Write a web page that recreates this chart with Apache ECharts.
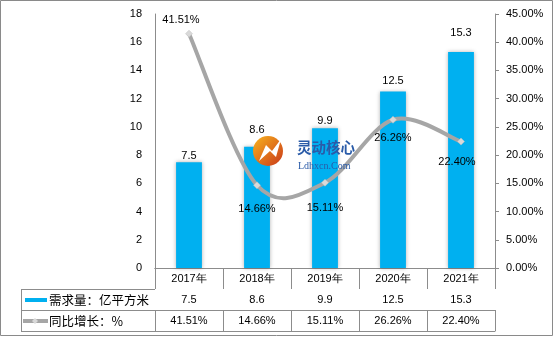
<!DOCTYPE html>
<html><head><meta charset="utf-8">
<script src="https://cdn.jsdelivr.net/npm/echarts@6/dist/echarts.min.js"></script>
<style>html,body{margin:0;padding:0;background:#fff}#c{width:554px;height:338px}</style>
</head><body><div id="c"></div>
<script>
const years = ['2017年', '2018年', '2019年', '2020年', '2021年'];
const demand = [7.5, 8.6, 9.9, 12.5, 15.3];
const growth = [41.51, 14.66, 15.11, 26.26, 22.40];
const leftAxisRange = [0, 18, 2];
const rightAxisRange = [0, 45, 5];
const demandName = '需求量：亿平方米';
const growthName = '同比增长：%';

const W = 554, H = 338;
const G = { left: 155, right: 59, top: 14, bottom: 70 };
const RH = 21;
const baseY = H - G.bottom;
const tableLeft = 21;
const gray = '#8c8c8c';
const lineGray = '#A6A6A6';
const font = 'Liberation Sans, Arial, sans-serif';
const cjk = 'Noto Sans CJK SC, sans-serif';

const pct = v => v.toFixed(2) + '%';

function tableAxis(idx, labels, showTick, showLabel) {
  return {
    type: 'category', data: years, position: 'bottom', offset: idx * RH, gridIndex: 0,
    axisLine: { show: true, lineStyle: { color: gray, width: 1 } },
    axisTick: { show: showTick, length: RH, lineStyle: { color: gray } },
    axisLabel: {
      show: showLabel, margin: 5, color: '#000', fontSize: 11, fontFamily: font,
      formatter: (v, i) => labels ? labels[i] : v
    },
    splitLine: { show: false }
  };
}

const chart = echarts.init(document.getElementById('c'), null, { renderer: 'canvas' });

const legendGraphics = [
  { type: 'line', shape: { x1: tableLeft, y1: baseY + RH + 0.5, x2: G.left, y2: baseY + RH + 0.5 }, style: { stroke: gray, lineWidth: 1 } },
  { type: 'line', shape: { x1: tableLeft, y1: baseY + 2 * RH + 0.5, x2: G.left, y2: baseY + 2 * RH + 0.5 }, style: { stroke: gray, lineWidth: 1 } },
  { type: 'line', shape: { x1: tableLeft, y1: baseY + 3 * RH + 0.5, x2: G.left, y2: baseY + 3 * RH + 0.5 }, style: { stroke: gray, lineWidth: 1 } },
  { type: 'line', shape: { x1: tableLeft + 0.5, y1: baseY + RH, x2: tableLeft + 0.5, y2: baseY + 3 * RH + 1 }, style: { stroke: gray, lineWidth: 1 } },
  { type: 'rect', shape: { x: tableLeft + 4, y: baseY + RH + 9, width: 22, height: 4 }, style: { fill: '#00B0F0' } },
  { type: 'text', x: tableLeft + 28, y: baseY + RH + 11, style: { text: demandName, fill: '#000', font: '12.5px ' + cjk, verticalAlign: 'middle' } },
  { type: 'line', shape: { x1: tableLeft + 2, y1: baseY + 2 * RH + 11, x2: tableLeft + 27, y2: baseY + 2 * RH + 11 }, style: { stroke: lineGray, lineWidth: 4 } },
  { type: 'polygon', shape: { points: [[tableLeft + 14, baseY + 2 * RH + 8], [tableLeft + 17, baseY + 2 * RH + 11], [tableLeft + 14, baseY + 2 * RH + 14], [tableLeft + 11, baseY + 2 * RH + 11]] }, style: { fill: '#D9D9D9' } },
  { type: 'text', x: tableLeft + 28, y: baseY + 2 * RH + 11, style: { text: growthName, fill: '#000', font: '12.5px ' + cjk, verticalAlign: 'middle' } },
  { type: 'rect', shape: { x: 0.5, y: 0.5, width: W - 2, height: H - 3 }, style: { fill: 'none', stroke: '#8a8a8a', lineWidth: 1 }, z: 100 },
  // watermark logo
  { type: 'circle', shape: { cx: 268, cy: 151, r: 15 }, style: { fill: new echarts.graphic.LinearGradient(0, 0, 1, 1, [{ offset: 0, color: '#F9B41D' }, { offset: 1, color: '#C9381A' }]) }, z: 50 },
  { type: 'polygon', shape: { points: [[259, 161], [266, 145], [272, 151], [281, 139], [276, 157], [270, 151]] }, style: { fill: '#fff' }, z: 51 },
  { type: 'text', x: 297, y: 140, style: { text: '灵动核心', fill: '#2A5BA8', font: 'bold 14.5px ' + cjk }, z: 50 },
  { type: 'text', x: 298, y: 161, style: { text: 'Ldhxcn.Com', fill: '#2A5BA8', font: '10px Liberation Serif, serif' }, z: 50 }
];

const barLabelDist = [1, 11, 2, 5, 14];
const growthLabelPos = ['top', 'bottom', 'bottom', 'bottom', 'bottom'];
const growthLabelDist = [4, 14, 16, 9, 11];
const growthLabelOff = [[-8, 0], [0, 0], [0, 0], [0, 0], [-4, 0]];

// Excel-style smoothed curve (Catmull-Rom through the data points, via axis coords)
function renderCurve(params, api) {
  const i = params.dataIndex;
  if (i >= growth.length - 1) return null;
  const clampIdx = k => Math.max(0, Math.min(growth.length - 1, k));
  const P = k => api.coord([clampIdx(k), growth[clampIdx(k)]]);
  const p0 = P(i - 1), p1 = P(i), p2 = P(i + 1), p3 = P(i + 2);
  return {
    type: 'bezierCurve',
    shape: {
      x1: p1[0], y1: p1[1], x2: p2[0], y2: p2[1],
      cpx1: p1[0] + (p2[0] - p0[0]) / 6, cpy1: p1[1] + (p2[1] - p0[1]) / 6,
      cpx2: p2[0] - (p3[0] - p1[0]) / 6, cpy2: p2[1] - (p3[1] - p1[1]) / 6
    },
    style: { stroke: lineGray, lineWidth: 4, fill: null, lineCap: 'round' }
  };
}

chart.setOption({
  animation: false,
  backgroundColor: '#fff',
  grid: { left: G.left, right: G.right, top: G.top, bottom: G.bottom, containLabel: false },
  xAxis: [
    tableAxis(0, null, true, true),
    tableAxis(1, demand.map(v => String(v)), true, true),
    tableAxis(2, growth.map(pct), true, true),
    tableAxis(3, null, false, false)
  ],
  yAxis: [
    {
      type: 'value', min: leftAxisRange[0], max: leftAxisRange[1], interval: leftAxisRange[2], position: 'left',
      axisLine: { show: true, lineStyle: { color: gray } }, axisTick: { show: false },
      axisLabel: { color: '#000', fontSize: 11, fontFamily: font, margin: 13 },
      splitLine: { show: false }
    },
    {
      type: 'value', min: rightAxisRange[0], max: rightAxisRange[1], interval: rightAxisRange[2], position: 'right',
      axisLine: { show: true, lineStyle: { color: gray } },
      axisTick: { show: true, inside: false, length: 4, lineStyle: { color: gray } },
      axisLabel: { color: '#000', fontSize: 11, fontFamily: font, margin: 11, formatter: v => pct(v) },
      splitLine: { show: false }
    }
  ],
  series: [
    {
      name: demandName, type: 'bar', xAxisIndex: 0, yAxisIndex: 0,
      data: demand.map((v, i) => ({ value: v, label: { distance: barLabelDist[i] } })),
      barWidth: '38%',
      itemStyle: { color: '#00B0F0', shadowColor: 'rgba(0,0,0,0.3)', shadowBlur: 4 },
      label: { show: true, position: 'top', color: '#000', fontSize: 11, fontFamily: font }
    },
    {
      name: growthName + '-curve', type: 'custom', data: growth, xAxisIndex: 0, yAxisIndex: 1,
      renderItem: renderCurve, z: 4, silent: true
    },
    {
      name: growthName, type: 'line', data: growth.map((v, i) => ({
        value: v,
        label: { position: growthLabelPos[i], distance: growthLabelDist[i], offset: growthLabelOff[i] }
      })),
      xAxisIndex: 0, yAxisIndex: 1,
      lineStyle: { opacity: 0, width: 0 },
      symbol: 'diamond', symbolSize: 7,
      itemStyle: { color: '#D9D9D9', borderColor: '#BFBFBF', borderWidth: 0.5 },
      label: { show: true, color: '#000', fontSize: 11, fontFamily: font, formatter: p => pct(p.value) },
      z: 5
    }
  ],
  graphic: legendGraphics
});
</script></body></html>
